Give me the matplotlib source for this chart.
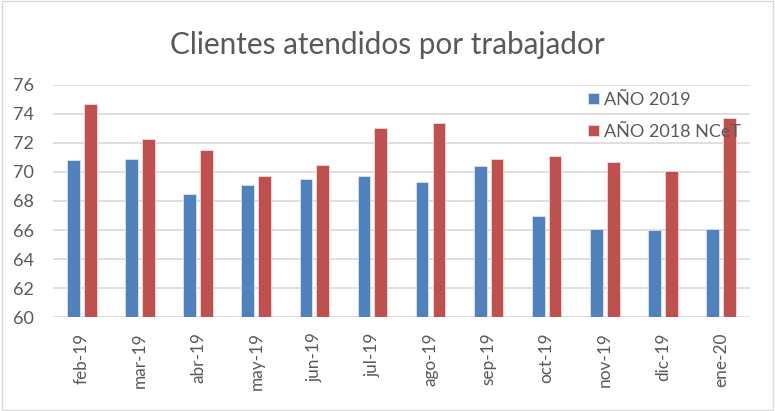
import matplotlib
matplotlib.use("Agg")
import matplotlib.pyplot as plt
import numpy as np
from matplotlib.patches import Rectangle

plt.rcParams['font.family'] = ['Lato', 'DejaVu Sans']

months = ["feb-19", "mar-19", "abr-19", "may-19", "jun-19", "jul-19",
          "ago-19", "sep-19", "oct-19", "nov-19", "dic-19", "ene-20"]
ano_2019 = [70.8, 70.9, 68.5, 69.1, 69.5, 69.7, 69.3, 70.4, 67.0, 66.1, 66.0, 66.1]
ano_2018 = [74.7, 72.3, 71.5, 69.7, 70.5, 73.0, 73.4, 70.9, 71.1, 70.7, 70.1, 73.7]
yticks = [60, 62, 64, 66, 68, 70, 72, 74, 76]

fig = plt.figure(figsize=(7.75, 4.11), dpi=100)
ax = fig.add_axes([0.0684, 0.2287, 0.8993, 0.5645])

x = np.arange(len(months))
w = 0.22
ax.bar(x - 0.145, [v - 60 for v in ano_2019], w, bottom=60, color="#4F81BD",
       edgecolor="#dbe5f1", linewidth=0.6, label="AÑO 2019", zorder=3)
ax.bar(x + 0.145, [v - 60 for v in ano_2018], w, bottom=60, color="#C0504D",
       edgecolor="#f2dcdb", linewidth=0.6, label="AÑO 2018 NCeT", zorder=3)

ax.set_xlim(-0.5, len(months) - 0.5)
ax.set_ylim(60, 76)
ax.set_yticks(yticks)
ax.set_yticklabels([str(t) for t in yticks], fontsize=13, color="#595959")
ax.set_xticks(x)
ax.set_xticklabels(months, rotation=90, fontsize=12.4, color="#595959")
ax.tick_params(length=0)
ax.tick_params(axis='x', pad=11)
ax.tick_params(axis='y', pad=14)
ax.yaxis.grid(True, color="#d9d9d9", linewidth=1.2, zorder=0)
for s in ax.spines.values():
    s.set_visible(False)

fig.text(0.5, 0.89, "Clientes atendidos por trabajador", ha="center", va="center",
         fontsize=21.4, color="#595959")

leg = ax.legend(loc="upper left", bbox_to_anchor=(0.744, 1.04), frameon=False,
                fontsize=13, handlelength=0.61, handleheight=0.61, handletextpad=0.27,
                labelspacing=0.88, labelcolor="#595959")

fig.patches.append(Rectangle((0.002, 0.003), 0.996, 0.994, transform=fig.transFigure,
                             fill=False, edgecolor="#d9d9d9", linewidth=1))

fig.savefig("out.png", dpi=100, facecolor="white")
